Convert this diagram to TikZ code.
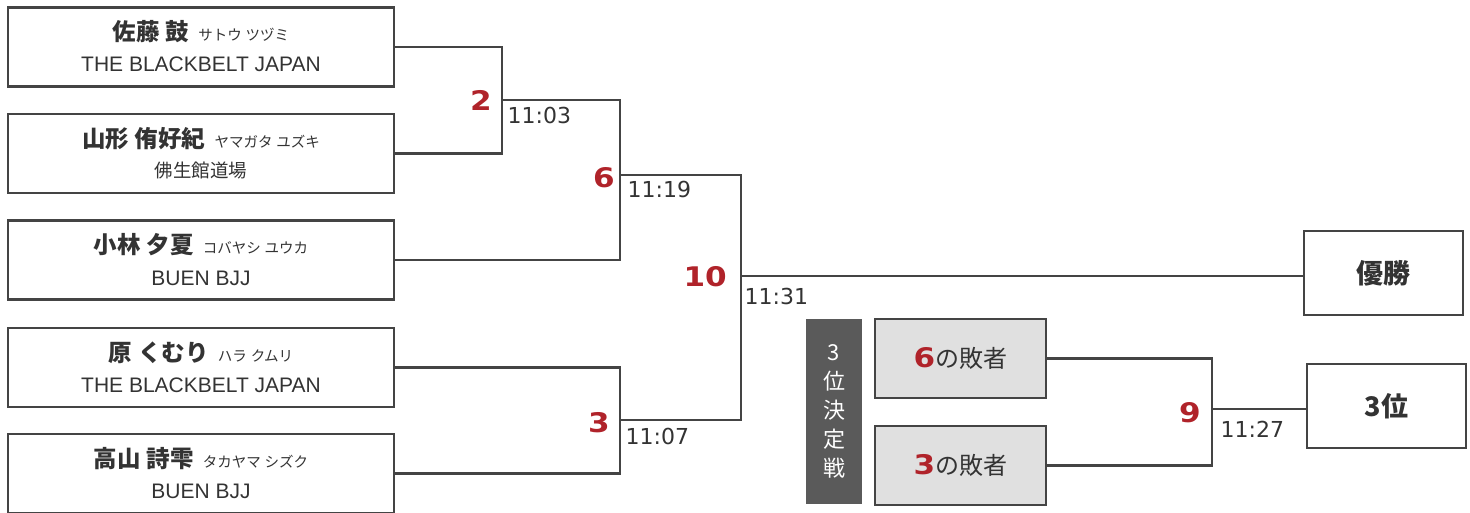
\documentclass[tikz,border=0pt]{standalone}
\usepackage{fontspec}
\usetikzlibrary{calc}
\newfontfamily\jp{Noto Sans CJK JP}
\newfontfamily\lat{Liberation Sans}
\newfontfamily\dv{DejaVu Sans}
\newfontfamily\rnum{DejaVu Sans}[FakeStretch=1.15]
\definecolor{ink}{HTML}{333333}
\definecolor{edge}{HTML}{444444}
\definecolor{redn}{HTML}{B0232A}
\definecolor{darkbox}{HTML}{5A5A5A}
\definecolor{greybox}{HTML}{E0E0E0}
\tikzset{
  player/.style={draw=edge, line width=2.6pt, minimum width=386pt, minimum height=79pt, inner sep=0pt},
  link/.style={draw=edge, line width=2.6pt},
  nm/.style={anchor=base, text=ink, inner sep=0pt, font=\jp\fontsize{23.5}{23.5}\selectfont},
  team/.style={anchor=base, text=ink, inner sep=0pt, font=\lat\fontsize{21}{21}\selectfont},
  teamjp/.style={anchor=base, text=ink, inner sep=0pt, font=\jp\fontsize{18.5}{18.5}\selectfont},
  rednum/.style={anchor=base east, text=redn, inner sep=0pt, font=\rnum\bfseries\fontsize{27}{27}\selectfont},
  timelbl/.style={anchor=base west, text=ink, inner sep=0pt, font=\dv\fontsize{22}{22}\selectfont},
  resbox/.style={draw=edge, line width=2.6pt, minimum width=159pt, minimum height=84pt, inner sep=0pt, text=ink, font=\jp\bfseries\fontsize{27}{27}\selectfont},
  loserbox/.style={draw=edge, fill=greybox, line width=2.6pt, minimum width=171pt, minimum height=79pt, inner sep=0pt, text=ink, font=\jp\fontsize{24}{24}\selectfont},
  vbox/.style={fill=darkbox, minimum width=56pt, minimum height=185pt, inner sep=0pt, text=white, align=center, font=\jp\fontsize{22}{29}\selectfont}
}
\newcommand{\nmb}[1]{{\bfseries #1}}
\newcommand{\kana}[1]{{\fontsize{14.5}{14.5}\selectfont #1}}
\newcommand{\rd}[1]{{\rnum\bfseries\fontsize{27}{27}\selectfont\color{redn}#1}}
\begin{document}
\begin{tikzpicture}[x=1pt,y=-1pt]
\useasboundingbox (0,0) rectangle (1470,513);
% player boxes
\node[player] (b1) at (201,47) {};
\node[player] (b2) at (201,153.5) {};
\node[player] (b3) at (201,260) {};
\node[player] (b4) at (201,367.5) {};
\node[player] (b5) at (201,473.5) {};
\node[nm] (b1n) at ($(b1.center)+(0,-6)$) {\nmb{佐藤\hspace{6pt}鼓}\hspace{9pt}\kana{サトウ\hspace{4pt}ツヅミ}};
\node[team] (b1t) at ($(b1.center)+(0,25)$) {THE BLACKBELT JAPAN};
\node[nm] (b2n) at ($(b2.center)+(0,-6)$) {\nmb{山形\hspace{6pt}侑好紀}\hspace{9pt}\kana{ヤマガタ\hspace{4pt}ユズキ}};
\node[teamjp] (b2t) at ($(b2.center)+(0,24)$) {佛生館道場};
\node[nm] (b3n) at ($(b3.center)+(0,-6)$) {\nmb{小林\hspace{6pt}夕夏}\hspace{9pt}\kana{コバヤシ\hspace{4pt}ユウカ}};
\node[team] (b3t) at ($(b3.center)+(0,25)$) {BUEN BJJ};
\node[nm] (b4n) at ($(b4.center)+(0,-6)$) {\nmb{原\hspace{6pt}くむり}\hspace{9pt}\kana{ハラ\hspace{4pt}クムリ}};
\node[team] (b4t) at ($(b4.center)+(0,25)$) {THE BLACKBELT JAPAN};
\node[nm] (b5n) at ($(b5.center)+(0,-6)$) {\nmb{高山\hspace{6pt}詩雫}\hspace{9pt}\kana{タカヤマ\hspace{4pt}シズク}};
\node[team] (b5t) at ($(b5.center)+(0,25)$) {BUEN BJJ};
% junctions
\coordinate (j2) at (502,100);
\coordinate (j6) at (620,175);
\coordinate (j3) at (620,420);
\coordinate (j10) at (741,276);
\coordinate (j9) at (1212,409);
% result boxes
\node[resbox] (win) at (1383.5,273) {優勝};
\node[resbox] (third) at (1386.5,406) {3位};
\node[vbox] (v) at (834,411.5) {3\\位\\決\\定\\戦};
\node[loserbox] (l6) at (960.5,358.5) {\rd{6}の敗者};
\node[loserbox] (l3) at (960.5,465.5) {\rd{3}の敗者};
% connectors
\draw[link] (b1.east) -| (j2) |- (b2.east);
\draw[link] (j2) -| (j6) |- (b3.east);
\draw[link] (b4.east) -| (j3) |- (b5.east);
\draw[link] (j6) -| (j10) |- (j3);
\draw[link] (j10) -- (j10 -| win.west);
\draw[link] (l6.east) -| (j9) |- (l3.east);
\draw[link] (j9) -- (j9 -| third.west);
% match numbers
\node[rednum] (n2) at ($(j2)+(-10,11)$) {2};
\node[rednum] (n6) at ($(j6)+(-5,13)$) {6};
\node[rednum] (n10) at ($(j10)+(-14,11)$) {10};
\node[rednum] (n3) at ($(j3)+(-10,12)$) {3};
\node[rednum] (n9) at ($(j9)+(-11,13)$) {9};
% times
\node[timelbl] (t2) at ($(j2)+(5.5,24)$) {11:03};
\node[timelbl] (t6) at ($(j6)+(7.5,23)$) {11:19};
\node[timelbl] (t10) at ($(j10)+(3.5,28)$) {11:31};
\node[timelbl] (t3) at ($(j3)+(5.5,24)$) {11:07};
\node[timelbl] (t9) at ($(j9)+(8.5,28)$) {11:27};
\end{tikzpicture}
\end{document}
